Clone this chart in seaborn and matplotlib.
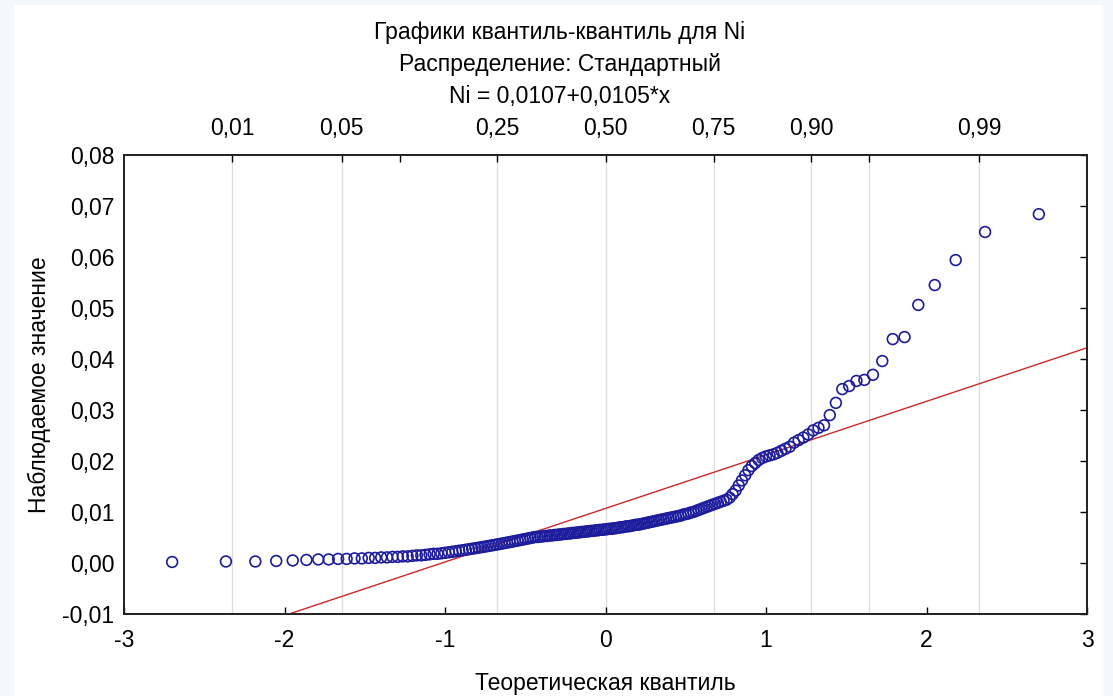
import numpy as np
import pandas as pd
import matplotlib
matplotlib.use('Agg')
import matplotlib.pyplot as plt
from matplotlib.patches import Rectangle
import seaborn as sns
from statistics import NormalDist

ni_values = [
    0.0002, 0.0003, 0.0003, 0.0004, 0.0005, 0.0006, 0.0007, 0.0007, 0.0008, 0.0008,
    0.0009, 0.0009, 0.0010, 0.0010, 0.0011, 0.0011, 0.0012, 0.0012, 0.0013, 0.0013,
    0.0014, 0.0015, 0.0015, 0.0016, 0.0017, 0.0018, 0.0018, 0.0019, 0.0020, 0.0021,
    0.0022, 0.0023, 0.0024, 0.0025, 0.0026, 0.0027, 0.0028, 0.0029, 0.0030, 0.0031,
    0.0032, 0.0033, 0.0034, 0.0035, 0.0036, 0.0037, 0.0038, 0.0039, 0.0040, 0.0041,
    0.0042, 0.0043, 0.0044, 0.0045, 0.0046, 0.0047, 0.0048, 0.0049, 0.0050, 0.0051,
    0.0051, 0.0052, 0.0052, 0.0053, 0.0053, 0.0054, 0.0054, 0.0055, 0.0055, 0.0056,
    0.0056, 0.0057, 0.0057, 0.0058, 0.0058, 0.0059, 0.0059, 0.0060, 0.0060, 0.0061,
    0.0061, 0.0062, 0.0062, 0.0063, 0.0063, 0.0064, 0.0064, 0.0065, 0.0065, 0.0066,
    0.0066, 0.0067, 0.0067, 0.0068, 0.0068, 0.0069, 0.0070, 0.0070, 0.0071, 0.0072,
    0.0072, 0.0073, 0.0074, 0.0075, 0.0075, 0.0076, 0.0077, 0.0078, 0.0079, 0.0080,
    0.0081, 0.0082, 0.0083, 0.0084, 0.0085, 0.0086, 0.0087, 0.0088, 0.0089, 0.0090,
    0.0091, 0.0092, 0.0093, 0.0095, 0.0096, 0.0097, 0.0099, 0.0100, 0.0102, 0.0104,
    0.0106, 0.0108, 0.0110, 0.0112, 0.0114, 0.0116, 0.0118, 0.0120, 0.0122, 0.0124,
    0.0128, 0.0135, 0.0142, 0.0152, 0.0162, 0.0172, 0.0182, 0.0190, 0.0196, 0.0202,
    0.0206, 0.0209, 0.0211, 0.0213, 0.0216, 0.0220, 0.0224, 0.0228, 0.0236, 0.0241,
    0.0246, 0.0252, 0.0260, 0.0265, 0.0270, 0.0290, 0.0314, 0.0341, 0.0347, 0.0357,
    0.0359, 0.0369, 0.0396, 0.0439, 0.0443, 0.0506, 0.0545, 0.0594, 0.0649, 0.0684,
]

intercept = 0.0107
slope = 0.0105

prob_ticks = [0.01, 0.05, 0.10, 0.25, 0.50, 0.75, 0.90, 0.95, 0.99]
prob_labels = ['0,01', '0,05', '', '0,25', '0,50', '0,75', '0,90', '', '0,99']
prob_grid = [True, True, False, True, True, True, True, True, True]
x_ticks = [-3, -2, -1, 0, 1, 2, 3]
y_ticks = [-0.01, 0.0, 0.01, 0.02, 0.03, 0.04, 0.05, 0.06, 0.07, 0.08]

title_lines = ['Графики квантиль-квантиль для Ni',
               'Распределение: Стандартный',
               'Ni = 0,0107+0,0105*x']

# теоретические квантили (формула Блома, как в Statistica)
nd = NormalDist()
n = len(ni_values)
df = pd.DataFrame({'ni': sorted(ni_values)})
df['q'] = [nd.inv_cdf((i + 1 - 0.375) / (n + 0.25)) for i in range(n)]
line_df = pd.DataFrame({'q': [-3, 3]})
line_df['ni'] = intercept + slope * line_df['q']

sns.set_theme(style='white')
plt.rcParams['font.family'] = ['Liberation Sans', 'DejaVu Sans']
plt.rcParams['text.color'] = 'black'
plt.rcParams['axes.labelcolor'] = 'black'

fs = 16.5

fig = plt.figure(figsize=(11.13, 6.96), dpi=100, facecolor='#f3f8fc')
fig.patches.append(Rectangle((14 / 1113, 0), 1089 / 1113, 691 / 696,
                             transform=fig.transFigure, facecolor='white',
                             edgecolor='none', zorder=-5))
ax = fig.add_axes([124 / 1113, 82 / 696, 963 / 1113, 459 / 696])

sns.lineplot(data=line_df, x='q', y='ni', color='#cc2a2a', lw=1.0, ax=ax, zorder=2)
sns.scatterplot(data=df, x='q', y='ni', ax=ax, marker='o', s=60,
                facecolor='none', edgecolor='#1c1c9c', linewidth=1.2, zorder=3)

ax.set_xlim(-3, 3)
ax.set_ylim(-0.01, 0.08)
ax.set_xticks(x_ticks)
ax.set_xticklabels([str(t) for t in x_ticks])
ax.set_yticks(y_ticks)
ax.set_yticklabels([f'{t:.2f}'.replace('.', ',') for t in y_ticks])
ax.tick_params(direction='in', length=5, width=1, right=True, labelsize=fs,
               colors='black')
ax.tick_params(axis='x', pad=11)
ax.tick_params(axis='y', pad=7)
for s in ax.spines.values():
    s.set_color('#222222')
    s.set_linewidth(1.3)
ax.set_xlabel('Теоретическая квантиль', fontsize=fs, labelpad=14)
ax.set_ylabel('Наблюдаемое значение', fontsize=fs, labelpad=8)

ax2 = ax.twiny()
ax2.set_xlim(-3, 3)
ax2.set_xticks([nd.inv_cdf(p) for p in prob_ticks])
ax2.set_xticklabels(prob_labels)
ax2.tick_params(direction='in', length=5, width=1, labelsize=fs, pad=11,
                colors='black')
ax2.grid(True, axis='x', color='#dcdcdc', lw=0.9)
for gl, show in zip(ax2.get_xgridlines(), prob_grid):
    gl.set_visible(show)
ax2.set_facecolor('white')
ax.set_zorder(ax2.get_zorder() + 1)
ax.patch.set_visible(False)

for i, t in enumerate(title_lines):
    fig.text(560 / 1113, 1 - (33 + 31.5 * i) / 696, t, ha='center', va='center',
             fontsize=fs)

fig.savefig('out.png', dpi=100, facecolor=fig.get_facecolor())
